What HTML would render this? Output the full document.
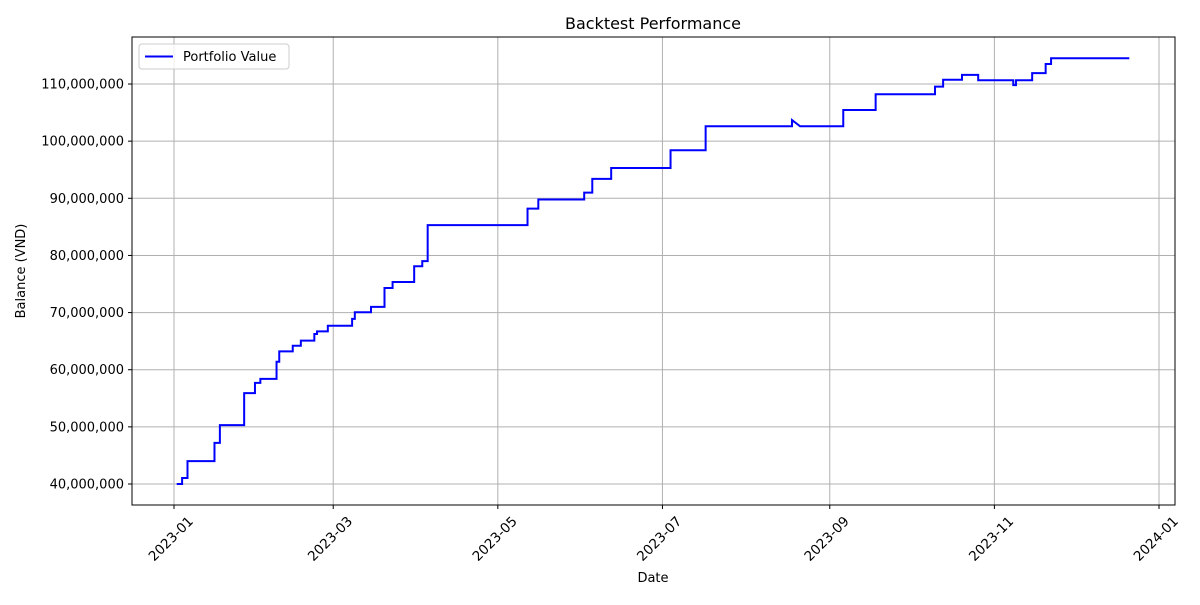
<!DOCTYPE html>
<html><head><meta charset="utf-8"><style>
body{margin:0;background:#fff;font-family:"Liberation Sans",sans-serif}
svg text{font-family:"DejaVu Sans","Liberation Sans",sans-serif;fill:#000}
</style></head><body>
<svg id="chart" width="1200" height="600" xmlns="http://www.w3.org/2000/svg">
<rect width="1200" height="600" fill="#fff"/>
<g id="grid"></g>
<g id="plot"></g>
<rect x="132" y="37" width="1043" height="468" fill="none" stroke="#000" stroke-width="1"/>
<g id="axes"></g>
<text x="653" y="29" font-size="16" text-anchor="middle">Backtest Performance</text>
<text x="653" y="582" font-size="13" text-anchor="middle">Date</text>
<text x="25" y="271" font-size="13" text-anchor="middle" transform="rotate(-90 25 271)">Balance (VND)</text>
<g>
<rect x="139" y="44" width="150" height="25" rx="3" fill="#fff" fill-opacity="0.8" stroke="#ccc"/>
<line x1="145" y1="56.5" x2="173" y2="56.5" stroke="#0000ff" stroke-width="2"/>
<text x="183" y="61" font-size="13">Portfolio Value</text>
</g>
</svg>
<script>
const dates=["2023-01-02","2023-01-04","2023-01-06","2023-01-16","2023-01-18","2023-01-27","2023-01-31","2023-02-02","2023-02-08","2023-02-09","2023-02-14","2023-02-17","2023-02-22","2023-02-23","2023-02-27","2023-03-08","2023-03-09","2023-03-15","2023-03-20","2023-03-23","2023-03-31","2023-04-03","2023-04-05","2023-05-12","2023-05-16","2023-06-02","2023-06-05","2023-06-12","2023-07-04","2023-07-17","2023-08-18","2023-08-21","2023-09-06","2023-09-18","2023-10-10","2023-10-13","2023-10-20","2023-10-26","2023-11-08","2023-11-09","2023-11-15","2023-11-20","2023-11-22","2023-12-21"];
const values=[40.0,41.05,44.0,47.2,50.3,55.9,57.7,58.4,61.4,63.2,64.2,65.1,66.25,66.7,67.7,68.9,70.05,71.0,74.3,75.35,78.1,79.0,85.3,88.2,89.8,91.0,93.4,95.3,98.4,102.6,103.7,102.6,105.45,108.2,109.55,110.75,111.6,110.65,109.8,110.65,111.9,113.5,114.5,114.5].map(v=>v*1e6);
const yTicks=[40e6,50e6,60e6,70e6,80e6,90e6,100e6,110e6];
const xTicks=["2023-01-01","2023-03-01","2023-05-01","2023-07-01","2023-09-01","2023-11-01","2024-01-01"];
const xTickLabels=["2023-01","2023-03","2023-05","2023-07","2023-09","2023-11","2024-01"];
const NS="http://www.w3.org/2000/svg";
const t0=Date.UTC(2023,0,1), t1=Date.UTC(2024,0,1);
function X(d){const p=d.split("-");const t=Date.UTC(+p[0],+p[1]-1,+p[2]);return 174+(t-t0)/(t1-t0)*985;}
function Y(v){return 484-(v-40e6)/10e6*57.14;}
const grid=document.getElementById("grid"),axes=document.getElementById("axes"),plot=document.getElementById("plot");
function mk(tag,attrs,parent){const e=document.createElementNS(NS,tag);for(const k in attrs)e.setAttribute(k,attrs[k]);parent.appendChild(e);return e;}
yTicks.forEach(v=>{const y=Y(v);
const g=mk("line",{x1:132,x2:1175,y1:y,y2:y,stroke:"#b0b0b0","stroke-width":1},grid);


mk("line",{x1:128,x2:132,y1:y,y2:y,stroke:"#000"},axes);
const t=mk("text",{x:124,y:y+4.5,"font-size":13,"text-anchor":"end"},axes);
t.textContent=v.toLocaleString("en-US");


});
xTicks.forEach((d,i)=>{const x=X(d);
const g=mk("line",{x1:x,x2:x,y1:37,y2:505,stroke:"#b0b0b0","stroke-width":1},grid);


mk("line",{x1:x,x2:x,y1:505,y2:509,stroke:"#000"},axes);
const tx=x+20, ty=522;
const t=mk("text",{x:tx,y:ty,"font-size":13.5,"text-anchor":"end",transform:`rotate(-45 ${tx} ${ty})`},axes);
t.textContent=xTickLabels[i];


});
let d="";
dates.forEach((dt,i)=>{const x=X(dt),y=Y(values[i]);
if(i===0)d+=`M${x},${y}`;
else if(i>1&&values[i-1]>values[i]&&values[i-1]>values[i-2]&&dates[i-1]==="2023-08-18")d+=`L${x},${y}`;
else d+=`H${x}V${y}`;});
const path=mk("path",{d:d,fill:"none",stroke:"#0000ff","stroke-width":2},plot);


</script>
</body></html>
